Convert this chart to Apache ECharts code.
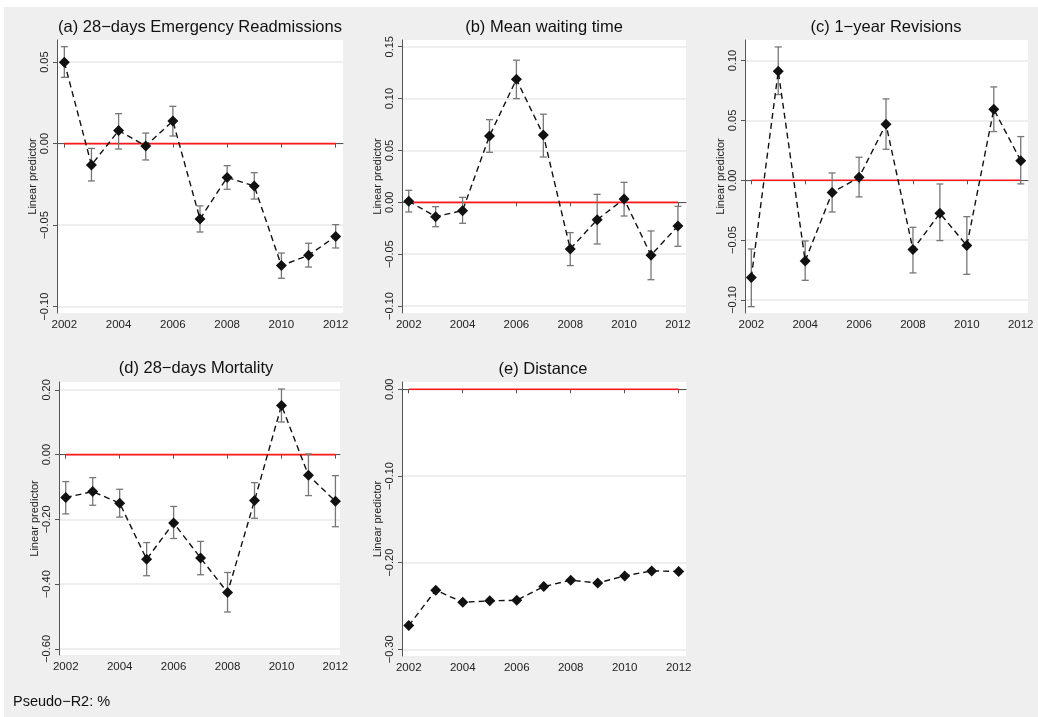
<!DOCTYPE html>
<html>
<head>
<meta charset="utf-8">
<script src="https://cdn.jsdelivr.net/npm/echarts@6/dist/echarts.min.js"></script>
<style>
html,body{margin:0;padding:0;background:#fff;}
#chart{width:1038px;height:717px;}
</style>
</head>
<body>
<div id="chart"></div>
<script>
// ---------- data ----------
const years = [2002,2003,2004,2005,2006,2007,2008,2009,2010,2011,2012];
const xTicks = [2002,2004,2006,2008,2010,2012];

const titles = ['(a) 28\u2212days Emergency Readmissions','(b) Mean waiting time','(c) 1\u2212year Revisions','(d) 28\u2212days Mortality','(e) Distance'];

const aVal = [0.050,-0.0131,0.008,-0.0014,0.0139,-0.0462,-0.0207,-0.026,-0.0748,-0.0685,-0.0569];
const aLo  = [0.0407,-0.0229,-0.0033,-0.010,0.0047,-0.0542,-0.028,-0.034,-0.0826,-0.0757,-0.064];
const aHi  = [0.0595,-0.0029,0.0184,0.0065,0.0229,-0.0382,-0.0135,-0.0178,-0.0671,-0.0611,-0.0497];
const aTicks = [0.05,0,-0.05,-0.10];

const bVal = [0.001,-0.0138,-0.008,0.064,0.1186,0.065,-0.045,-0.0167,0.0032,-0.051,-0.0228];
const bLo  = [-0.0093,-0.0235,-0.0202,0.0482,0.100,0.0437,-0.061,-0.0402,-0.0132,-0.0746,-0.0424];
const bHi  = [0.0116,-0.0042,0.0048,0.0797,0.137,0.085,-0.0292,0.0077,0.0193,-0.0276,-0.0039];
const bTicks = [0.15,0.10,0.05,0,-0.05,-0.10];

const cVal = [-0.0813,0.0911,-0.0674,-0.0103,0.0025,0.0469,-0.0579,-0.0276,-0.0546,0.0593,0.0164];
const cLo  = [-0.1056,0.0716,-0.0836,-0.0265,-0.0139,0.0259,-0.0774,-0.0504,-0.0786,0.0407,-0.003];
const cHi  = [-0.0574,0.1114,-0.0507,0.0061,0.0192,0.0680,-0.0393,-0.0031,-0.0304,0.0780,0.0365];
const cTicks = [0.10,0.05,0,-0.05,-0.10];

const dVal = [-0.1327,-0.1141,-0.150,-0.323,-0.211,-0.319,-0.426,-0.142,0.152,-0.0638,-0.144];
const dLo  = [-0.183,-0.1563,-0.193,-0.374,-0.259,-0.371,-0.486,-0.1967,0.1008,-0.1265,-0.2226];
const dHi  = [-0.0833,-0.071,-0.107,-0.2715,-0.160,-0.268,-0.364,-0.0864,0.2026,0.002,-0.0648];
const dTicks = [0.20,0,-0.20,-0.40,-0.60];

const eVal = [-0.2726,-0.2318,-0.2457,-0.2441,-0.2434,-0.2276,-0.2203,-0.2234,-0.2153,-0.2095,-0.2102];
const eTicks = [0,-0.10,-0.20,-0.30];

const refLine = [[2002,0],[2012,0]];
const noteText = 'Pseudo\u2212R2: %';

// ---------- layout ----------
const FONT = 'Liberation Sans, Arial, Helvetica, sans-serif';
const panels = [
  {grid:{left:57,top:40,width:286,height:273}, x:[2001.73,2012.27], y:[-0.1039,0.0636], ticks:aTicks, val:aVal, lo:aLo, hi:aHi, tx:200, ty:27},
  {grid:{left:402,top:40,width:284,height:273}, x:[2001.75,2012.30], y:[-0.1067,0.1565], ticks:bTicks, val:bVal, lo:bLo, hi:bHi, tx:544, ty:27},
  {grid:{left:745,top:40,width:283,height:273}, x:[2001.766,2012.27], y:[-0.1109,0.1172], ticks:cTicks, val:cVal, lo:cLo, hi:cHi, tx:886, ty:27},
  {grid:{left:59,top:382,width:281,height:273}, x:[2001.75,2012.17], y:[-0.6188,0.2243], ticks:dTicks, val:dVal, lo:dLo, hi:dHi, tx:196, ty:368},
  {grid:{left:402,top:382,width:284,height:274}, x:[2001.75,2012.27], y:[-0.3077,0.0084], ticks:eTicks, val:eVal, lo:null, hi:null, tx:543, ty:369}
];

function fmt(v){
  const s = Math.abs(v) < 1e-9 ? '0.00' : v.toFixed(2);
  return s.replace('-', '\u2212');
}

function renderErr(params, api){
  const x = api.value(0), lo = api.value(1), hi = api.value(2);
  const p1 = api.coord([x, hi]), p2 = api.coord([x, lo]);
  const cw = 3.5;
  const st = {stroke:'#777777', lineWidth:1.3};
  return {type:'group', children:[
    {type:'line', shape:{x1:p1[0],y1:p1[1],x2:p2[0],y2:p2[1]}, style:st},
    {type:'line', shape:{x1:p1[0]-cw,y1:p1[1],x2:p1[0]+cw,y2:p1[1]}, style:st},
    {type:'line', shape:{x1:p2[0]-cw,y1:p2[1],x2:p2[0]+cw,y2:p2[1]}, style:st}
  ]};
}

const grid = [], xAxis = [], yAxis = [], series = [], graphic = [];

graphic.push({type:'rect', shape:{x:4,y:7,width:1034,height:710}, style:{fill:'#efefef'}, z:-10, silent:true});

panels.forEach((p, i) => {
  grid.push(Object.assign({show:true, backgroundColor:'#ffffff', borderWidth:0, containLabel:false}, p.grid));
  xAxis.push({
    type:'value', gridIndex:i, min:p.x[0], max:p.x[1],
    axisLine:{show:true, lineStyle:{color:'#555', width:1}},
    axisTick:{show:true, customValues:xTicks, length:4, lineStyle:{color:'#555'}},
    axisLabel:{customValues:xTicks, margin:6, fontFamily:FONT, fontSize:11.5, color:'#222', formatter:(v)=>String(v)},
    splitLine:{show:false}
  });
  yAxis.push({
    type:'value', gridIndex:i, min:p.y[0], max:p.y[1],
    name:'Linear predictor', nameLocation:'middle', nameGap:19,
    nameTextStyle:{fontFamily:FONT, fontSize:11, color:'#222'},
    axisLine:{show:true, lineStyle:{color:'#555', width:1}},
    axisTick:{show:true, customValues:p.ticks, length:4, lineStyle:{color:'#555'}},
    axisLabel:{customValues:p.ticks, rotate:90, margin:7, fontFamily:FONT, fontSize:11, color:'#222', formatter:fmt},
    splitLine:{show:false}
  });
  // gridlines
  series.push({
    type:'line', xAxisIndex:i, yAxisIndex:i, data:[], silent:true, z:1,
    markLine:{silent:true, z:0, symbol:'none', label:{show:false}, animation:false,
      lineStyle:{color:'#e9e9e9', width:1.5, type:'solid'},
      data:p.ticks.map(v => ({yAxis:v}))}
  });
  // red reference line
  series.push({
    type:'line', xAxisIndex:i, yAxisIndex:i, data:refLine, symbol:'none', silent:true, z:6,
    lineStyle:{color:'#ff1a1a', width:1.6}
  });
  // error bars
  if (p.lo) {
    series.push({
      type:'custom', xAxisIndex:i, yAxisIndex:i, z:7, silent:true,
      renderItem:renderErr, encode:{x:0, y:[1,2]},
      data:years.map((y,k) => [y, p.lo[k], p.hi[k]])
    });
  }
  // estimates
  series.push({
    type:'line', xAxisIndex:i, yAxisIndex:i, z:8,
    data:years.map((y,k) => [y, p.val[k]]),
    symbol:'diamond', symbolSize:11,
    itemStyle:{color:'#111'},
    lineStyle:{color:'#111', width:1.4, type:[6,4]}
  });
  graphic.push({type:'text', x:p.tx, y:p.ty, silent:true,
    style:{text:titles[i], fontFamily:FONT, fontSize:16.5, fill:'#111', align:'center', verticalAlign:'middle'}});
});

graphic.push({type:'text', x:13, y:702, silent:true,
  style:{text:noteText, fontFamily:FONT, fontSize:14.5, fill:'#111', align:'left', verticalAlign:'middle'}});

const chart = echarts.init(document.getElementById('chart'), null, {renderer:'canvas'});
chart.setOption({
  animation:false,
  backgroundColor:'#ffffff',
  grid, xAxis, yAxis, series, graphic
});
</script>
</body>
</html>
